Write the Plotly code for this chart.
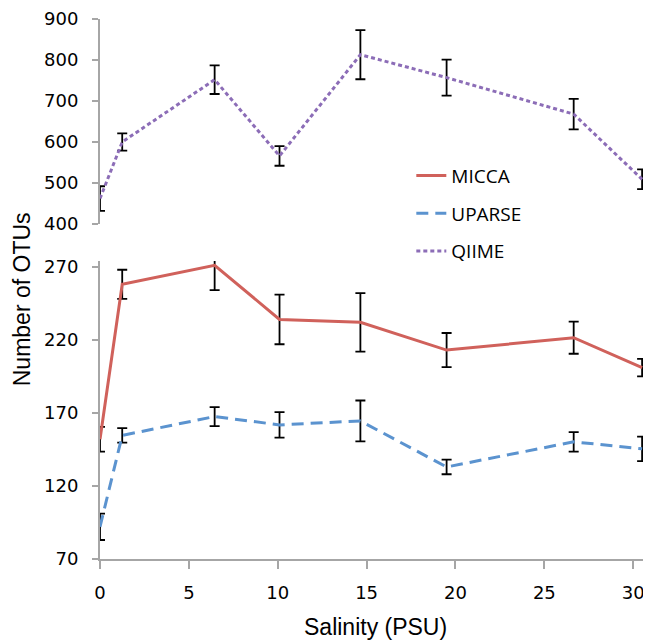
import plotly.graph_objects as go

salinity = [0, 1.25, 6.45, 10.1, 14.65, 19.5, 26.65, 30.5]

micca = [152, 258, 271, 234, 232, 213, 221.5, 201]
micca_err = [8.5, 10, 17, 17, 20, 11.7, 11, 6]

uparse = [92, 154.6, 167.5, 161.8, 164.5, 133, 150.2, 145.4]
uparse_err = [9, 5, 6.5, 8.7, 14, 5, 6.7, 8.4]

qiime = [462, 600, 752, 566, 813, 757, 668, 509]
qiime_err = [30, 21, 35, 24, 60, 44, 37, 24]

top_ticks = [400, 500, 600, 700, 800, 900]
bottom_ticks = [70, 120, 170, 220, 270]
x_ticks = [0, 5, 10, 15, 20, 25, 30]

AX = "#A6A6A6"
TICKFONT = dict(family="DejaVu Sans", size=18, color="#000000")
TITLEFONT = dict(family="Liberation Sans", size=23, color="#000000")

def eb(arr):
    return dict(type="data", array=arr, visible=True, color="#000000", thickness=1.8, width=5)

fig = go.Figure()
fig.add_trace(go.Scatter(x=salinity, y=micca, name="MICCA", mode="lines",
                         line=dict(color="#D0615B", width=3), error_y=eb(micca_err),
                         xaxis="x", yaxis="y", legendgroup="a", cliponaxis=False))
fig.add_trace(go.Scatter(x=salinity, y=uparse, name="UPARSE", mode="lines",
                         line=dict(color="#5B93CF", width=3, dash="12px,7px"), error_y=eb(uparse_err),
                         xaxis="x", yaxis="y", legendgroup="b", cliponaxis=False))
fig.add_trace(go.Scatter(x=salinity, y=qiime, name="QIIME", mode="lines",
                         line=dict(color="#8C6DB7", width=3, dash="4px,3px"), error_y=eb(qiime_err),
                         xaxis="x", yaxis="y2", legendgroup="c", cliponaxis=False))

fig.update_layout(
    width=643, height=634,
    margin=dict(l=92, r=0, t=11, b=83, autoexpand=False),
    paper_bgcolor="white", plot_bgcolor="white",
    showlegend=True,
    legend=dict(x=0.565, y=0.745, xanchor="left", yanchor="top",
                font=dict(family="Open Sans", size=19, color="#000000"),
                bgcolor="rgba(0,0,0,0)", tracegroupgap=10, traceorder="grouped"),
    xaxis=dict(range=[0, 31], tickvals=x_ticks, showgrid=False, zeroline=False,
               showline=True, linecolor=AX, linewidth=2, ticks="outside", ticklen=8,
               tickcolor=AX, tickwidth=2, tickfont=TICKFONT, anchor="y",
               ticklabelstandoff=8, automargin=False),
    yaxis=dict(domain=[0, 0.5519], range=[70, 274], tickvals=bottom_ticks, showgrid=False,
               zeroline=False, showline=True, linecolor=AX, linewidth=2, ticks="outside",
               ticklen=6, tickcolor=AX, tickwidth=2, tickfont=TICKFONT, anchor="x",
               ticklabelstandoff=10, automargin=False),
    yaxis2=dict(domain=[0.6204, 1.0], range=[400, 900], tickvals=top_ticks, showgrid=False,
                zeroline=False, showline=True, linecolor=AX, linewidth=2, ticks="outside",
                ticklen=6, tickcolor=AX, tickwidth=2, tickfont=TICKFONT, anchor="x",
                ticklabelstandoff=10, automargin=False),
)

fig.add_annotation(text="Number of OTUs", textangle=-90, xref="paper", yref="paper",
                   x=-0.1416, y=0.481, xanchor="center", yanchor="middle", showarrow=False,
                   font=TITLEFONT)
fig.add_annotation(text="Salinity (PSU)", xref="paper", yref="paper",
                   x=0.5, y=-0.1259, xanchor="center", yanchor="middle", showarrow=False,
                   font=TITLEFONT)

fig.write_html("out.html")
